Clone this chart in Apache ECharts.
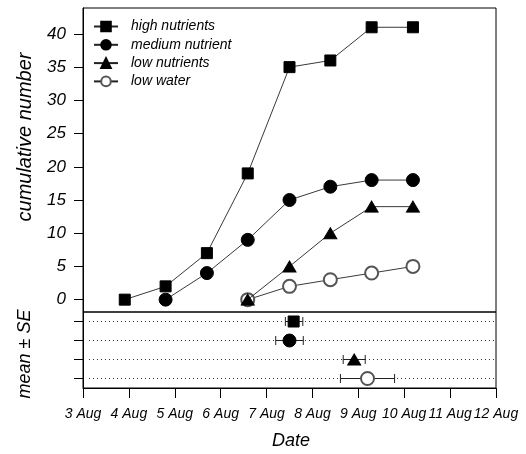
<!DOCTYPE html>
<html>
<head>
<meta charset="utf-8">
<script src="https://cdn.jsdelivr.net/npm/echarts@6/dist/echarts.min.js"></script>
<style>
  html, body { margin: 0; padding: 0; background: #fff; }
  #chart { width: 526px; height: 454px; }
</style>
</head>
<body>
<div id="chart"></div>
<script>
// sampling dates (day of August)
var dates = [3.91, 4.80, 5.70, 6.59, 7.50, 8.39, 9.29, 10.19];

// cumulative numbers per treatment (null = not yet observed)
var highNutrients   = [0, 2, 7, 19, 35, 36, 41, 41];
var mediumNutrient  = [null, 0, 4, 9, 15, 17, 18, 18];
var lowNutrients    = [null, null, null, 0, 5, 10, 14, 14];
var lowWater        = [null, null, null, 0, 2, 3, 4, 5];

var seriesNames = ['high nutrients', 'medium nutrient', 'low nutrients', 'low water'];

// mean date +- SE (lower panel), one row per treatment
var meanRow  = [0.5, 1.5, 2.5, 3.5];
var meanDate = [7.59, 7.50, 8.91, 9.20];
var seLow    = [7.41, 7.20, 8.67, 8.61];
var seHigh   = [7.79, 7.80, 9.15, 9.79];

var yTicks = [0, 5, 10, 15, 20, 25, 30, 35, 40];

var FONT = 'Liberation Sans';

function pairs(vals) {
    var out = [];
    for (var i = 0; i < vals.length; i++) {
        if (vals[i] !== null) out.push([dates[i], vals[i]]);
    }
    return out;
}

var symbols = [
    { symbol: 'rect', size: 11, color: '#000' },
    { symbol: 'circle', size: 13, color: '#000' },
    { symbol: 'triangle', size: [13, 11], color: '#000' },
    { symbol: 'emptyCircle', size: 13, color: '#555' }
];
var allVals = [highNutrients, mediumNutrient, lowNutrients, lowWater];

var series = [];
for (var s = 0; s < 4; s++) {
    series.push({
        name: seriesNames[s],
        type: 'line',
        xAxisIndex: 0,
        yAxisIndex: 0,
        data: pairs(allVals[s]),
        symbol: symbols[s].symbol,
        symbolSize: symbols[s].size,
        showAllSymbol: true,
        itemStyle: { color: symbols[s].color, borderColor: symbols[s].color, borderWidth: 1 },
        lineStyle: { color: '#222', width: 0.9 },
        z: 10 - s
    });
}

// dotted guide lines + error bars for the lower panel
var errData = [];
for (var i = 0; i < meanRow.length; i++) {
    errData.push([meanRow[i], seLow[i], seHigh[i]]);
}
series.push({
    name: 'se',
    type: 'custom',
    xAxisIndex: 1,
    yAxisIndex: 1,
    data: errData,
    clip: false,
    z: 1,
    renderItem: function (params, api) {
        var row = api.value(0);
        var a = api.coord([3, row]);
        var b = api.coord([12, row]);
        var lo = api.coord([api.value(1), row]);
        var hi = api.coord([api.value(2), row]);
        var cap = 4.5;
        return {
            type: 'group',
            children: [
                { type: 'line', shape: { x1: a[0] + 6, y1: a[1], x2: b[0], y2: b[1] },
                  style: { stroke: '#333', lineWidth: 1, lineDash: [1, 3] } },
                { type: 'line', shape: { x1: lo[0], y1: lo[1], x2: hi[0], y2: hi[1] },
                  style: { stroke: '#222', lineWidth: 1 } },
                { type: 'line', shape: { x1: lo[0], y1: lo[1] - cap, x2: lo[0], y2: lo[1] + cap },
                  style: { stroke: '#222', lineWidth: 1 } },
                { type: 'line', shape: { x1: hi[0], y1: hi[1] - cap, x2: hi[0], y2: hi[1] + cap },
                  style: { stroke: '#222', lineWidth: 1 } }
            ]
        };
    }
});
for (var m = 0; m < 4; m++) {
    series.push({
        name: 'mean ' + seriesNames[m],
        type: 'scatter',
        xAxisIndex: 1,
        yAxisIndex: 1,
        data: [[meanDate[m], meanRow[m]]],
        symbol: symbols[m].symbol,
        symbolSize: symbols[m].size,
        itemStyle: { color: symbols[m].color, borderColor: symbols[m].color, borderWidth: 1, opacity: 1 },
        z: 5
    });
}

var chart = echarts.init(document.getElementById('chart'));
var option = {
    animation: false,
    backgroundColor: '#fff',
    textStyle: { fontFamily: FONT },
    grid: [
        { left: 83, right: 30, top: 8, height: 304, show: true, borderColor: '#000', borderWidth: 1, backgroundColor: 'transparent' },
        { left: 83, right: 30, top: 312, height: 76, show: true, borderColor: '#000', borderWidth: 1, backgroundColor: 'transparent' }
    ],
    legend: {
        data: seriesNames,
        orient: 'vertical',
        left: 93,
        top: 19.5,
        padding: 0,
        itemWidth: 24,
        itemHeight: 12,
        itemGap: 4.3,
        textStyle: { fontFamily: FONT, fontStyle: 'italic', fontSize: 14, color: '#000', padding: [0, 0, 0, 8] }
    },
    xAxis: [
        { gridIndex: 0, type: 'value', min: 3, max: 12, show: false, splitLine: { show: false } },
        {
            gridIndex: 1, type: 'value', min: 3, max: 12, interval: 1, position: 'bottom',
            axisLine: { show: true, onZero: false, lineStyle: { color: '#000', width: 1 } },
            axisTick: { show: true, inside: false, length: 10, lineStyle: { color: '#000' } },
            axisLabel: {
                formatter: function (v) { return v + ' Aug'; },
                fontFamily: FONT, fontStyle: 'italic', fontSize: 14, color: '#000', margin: 19
            },
            splitLine: { show: false }
        }
    ],
    yAxis: [
        {
            gridIndex: 0, type: 'value', min: -1.86, max: 43.9,
            axisLine: { show: true, lineStyle: { color: '#000', width: 1 } },
            axisTick: { show: true, inside: false, length: 9, customValues: yTicks, lineStyle: { color: '#000' } },
            axisLabel: { customValues: yTicks, fontFamily: FONT, fontStyle: 'italic', fontSize: 17, color: '#000', margin: 17 },
            splitLine: { show: false }
        },
        {
            gridIndex: 1, type: 'value', min: 0, max: 4, inverse: true,
            axisLine: { show: true, onZero: false, lineStyle: { color: '#000', width: 1 } },
            axisTick: { show: true, inside: false, length: 9, customValues: meanRow, lineStyle: { color: '#000' } },
            axisLabel: { show: false },
            splitLine: { show: false }
        }
    ],
    graphic: [
        { type: 'text', x: 25, y: 137, rotation: Math.PI / 2,
          style: { text: 'cumulative number', font: 'italic 20px "Liberation Sans"', fill: '#000', align: 'center', verticalAlign: 'middle' } },
        { type: 'text', x: 25, y: 354, rotation: Math.PI / 2,
          style: { text: 'mean \u00b1 SE', font: 'italic 18px "Liberation Sans"', fill: '#000', align: 'center', verticalAlign: 'middle' } },
        { type: 'text', x: 291, y: 441,
          style: { text: 'Date', font: 'italic 18px "Liberation Sans"', fill: '#000', align: 'center', verticalAlign: 'middle' } }
    ],
    series: series
};
chart.setOption(option);
</script>
</body>
</html>
